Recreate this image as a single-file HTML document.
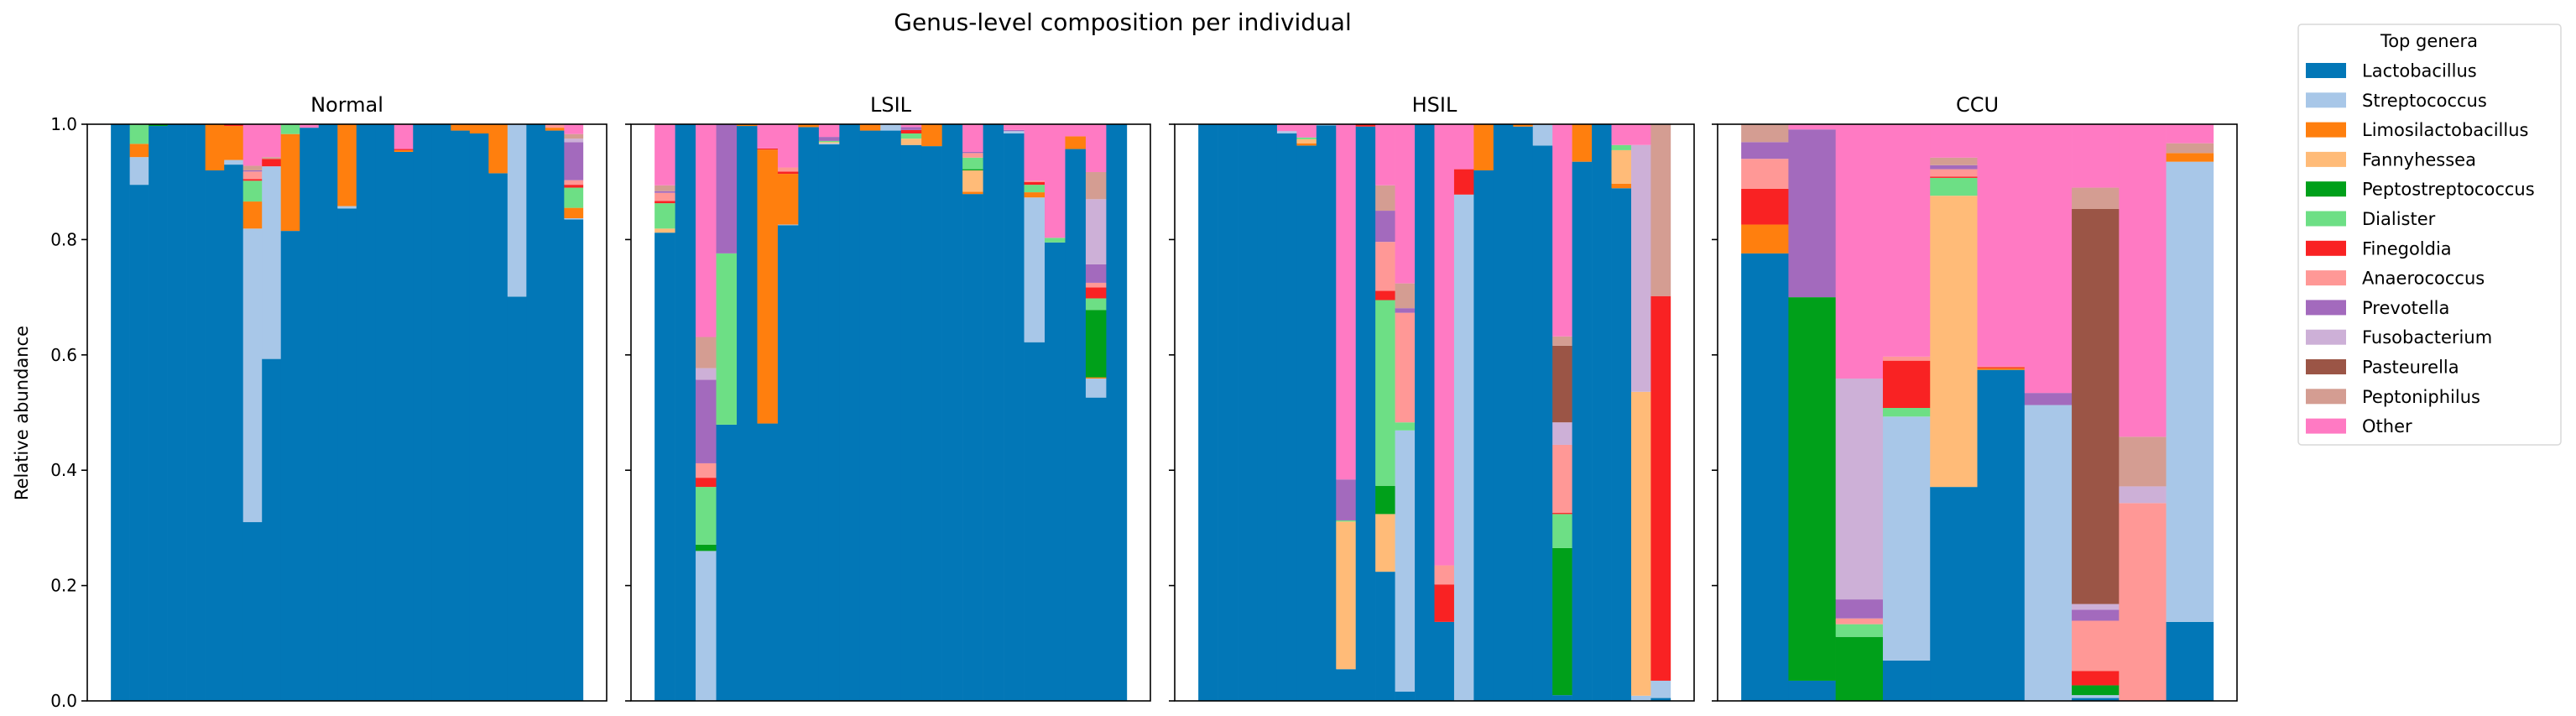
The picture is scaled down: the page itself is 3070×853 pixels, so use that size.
<!DOCTYPE html>
<html><head><meta charset="utf-8">
<style>
html,body{margin:0;padding:0;background:#fff;}
svg{display:block;font-family:"DejaVu Sans","Liberation Sans",sans-serif;}
</style></head>
<body>
<svg id="chart" width="3070" height="853" viewBox="0 0 3070 853" xmlns="http://www.w3.org/2000/svg">
<text x="1338" y="36" font-size="28" text-anchor="middle" fill="#000">Genus-level composition per individual</text>
<text transform="translate(33,492) rotate(-90)" font-size="21" text-anchor="middle" fill="#000">Relative abundance</text>
<g id="panels"></g>
<g id="legend"></g>
</svg>
<script>
const genera = ["Lactobacillus","Streptococcus","Limosilactobacillus","Fannyhessea","Peptostreptococcus","Dialister","Finegoldia","Anaerococcus","Prevotella","Fusobacterium","Pasteurella","Peptoniphilus","Other"];
const colors = ["#0277b7","#a8c7e8","#ff7f0e","#ffbb78","#00a01a","#6ddf85","#f92223","#ff9896","#a36abd","#cdb0d7","#9b5546","#d49d92","#ff7ac3"];
const groups = ["Normal","LSIL","HSIL","CCU"];
const yTicks = [0,0.2,0.4,0.6,0.8,1.0];
const yTickLabels = ["0.0","0.2","0.4","0.6","0.8","1.0"];
// order: Lacto,Strep,Limo,Fanny,Pepto,Dial,Fineg,Anaero,Prev,Fuso,Past,Pepton,Other
const normalSamples = [
[1,0,0,0,0,0,0,0,0,0,0,0,0],
[.895,.048,.023,0,0,.034,0,0,0,0,0,0,0],
[.997,0,0,0,.003,0,0,0,0,0,0,0,0],
[1,0,0,0,0,0,0,0,0,0,0,0,0],
[1,0,0,0,0,0,0,0,0,0,0,0,0],
[.92,0,.08,0,0,0,0,0,0,0,0,0,0],
[.93,.008,.059,0,0,0,.003,0,0,0,0,0,0],
[.31,.509,.047,0,0,.036,.003,.013,.002,0,0,.008,.072],
[.593,.334,0,0,0,0,.013,0,0,0,0,.003,.057],
[.815,0,.168,0,0,.017,0,0,0,0,0,0,0],
[.994,0,0,0,0,0,0,0,0,0,0,0,.006],
[1,0,0,0,0,0,0,0,0,0,0,0,0],
[.854,.004,.142,0,0,0,0,0,0,0,0,0,0],
[1,0,0,0,0,0,0,0,0,0,0,0,0],
[1,0,0,0,0,0,0,0,0,0,0,0,0],
[.952,0,.003,0,0,0,.002,0,0,0,0,0,.043],
[1,0,0,0,0,0,0,0,0,0,0,0,0],
[1,0,0,0,0,0,0,0,0,0,0,0,0],
[.989,0,.011,0,0,0,0,0,0,0,0,0,0],
[.984,0,.016,0,0,0,0,0,0,0,0,0,0],
[.915,0,.085,0,0,0,0,0,0,0,0,0,0],
[.701,.299,0,0,0,0,0,0,0,0,0,0,0],
[1,0,0,0,0,0,0,0,0,0,0,0,0],
[.989,0,.005,0,0,0,0,.006,0,0,0,0,0],
[.835,.002,.018,0,0,.035,.005,.008,.066,.006,0,.008,.017]
];
const lsilSamples = [
[.812,0,0,.007,0,.044,.004,.014,.003,0,0,.010,.106],
[1,0,0,0,0,0,0,0,0,0,0,0,0],
[0,.26,0,0,.011,.10,.016,.025,.145,.02,0,.054,.369],
[.479,0,0,0,0,.297,0,0,.224,0,0,0,0],
[.997,0,.003,0,0,0,0,0,0,0,0,0,0],
[.481,0,.475,0,0,0,.002,0,0,0,0,0,.042],
[.825,.001,.088,0,0,0,.004,.007,0,0,0,0,.075],
[.995,0,.005,0,0,0,0,0,0,0,0,0,0],
[.965,.002,0,.002,0,.002,0,0,.007,0,0,0,.022],
[1,0,0,0,0,0,0,0,0,0,0,0,0],
[.989,0,.011,0,0,0,0,0,0,0,0,0,0],
[.989,.011,0,0,0,0,0,0,0,0,0,0,0],
[.964,0,0,.011,0,.009,.006,0,.005,0,0,0,.005],
[.962,0,.038,0,0,0,0,0,0,0,0,0,0],
[1,0,0,0,0,0,0,0,0,0,0,0,0],
[.879,0,.004,.037,.002,.02,0,.008,.002,0,0,0,.048],
[1,0,0,0,0,0,0,0,0,0,0,0,0],
[.984,.004,0,0,0,0,0,0,.002,0,0,0,.01],
[.622,.251,.009,0,0,.013,.005,.002,0,0,0,0,.098],
[.795,0,0,0,0,.008,0,0,0,0,0,0,.197],
[.957,0,.022,0,0,0,0,0,0,0,0,0,.021],
[.526,.033,.002,0,.117,.02,.019,.008,.032,.113,0,.047,.083],
[1,0,0,0,0,0,0,0,0,0,0,0,0]
];
const hsilSamples = [
[1,0,0,0,0,0,0,0,0,0,0,0,0],
[1,0,0,0,0,0,0,0,0,0,0,0,0],
[1,0,0,0,0,0,0,0,0,0,0,0,0],
[1,0,0,0,0,0,0,0,0,0,0,0,0],
[.984,.004,0,0,0,0,0,0,0,0,0,0,.012],
[.963,0,.004,.007,0,.003,0,0,0,0,0,0,.023],
[.998,.002,0,0,0,0,0,0,0,0,0,0,0],
[.055,0,0,.256,0,.002,0,0,.071,0,0,0,.616],
[.996,0,0,0,0,0,.004,0,0,0,0,0,0],
[.224,0,0,.10,.049,.322,.016,.085,.054,0,0,.044,.106],
[.016,.453,0,0,0,.014,0,.19,.008,0,0,.043,.276],
[1,0,0,0,0,0,0,0,0,0,0,0,0],
[.137,0,0,0,0,0,.065,.033,0,0,0,0,.765],
[0,.878,0,0,0,0,.044,0,0,0,0,0,.078],
[.92,0,.08,0,0,0,0,0,0,0,0,0,0],
[1,0,0,0,0,0,0,0,0,0,0,0,0],
[.996,0,.004,0,0,0,0,0,0,0,0,0,0],
[.963,.037,0,0,0,0,0,0,0,0,0,0,0],
[.01,0,0,0,.255,.059,.002,.118,0,.039,.133,.016,.368],
[.935,0,.065,0,0,0,0,0,0,0,0,0,0],
[1,0,0,0,0,0,0,0,0,0,0,0,0],
[.889,0,.008,.058,0,.009,0,0,0,0,0,0,.036],
[0,.009,0,.527,0,0,0,0,0,.428,0,0,.036],
[.005,.03,0,0,0,0,.667,0,0,0,0,.298,0]
];
const ccuSamples = [
[.776,0,.05,0,0,0,.062,.052,.029,0,0,.031,0],
[.035,0,0,0,.665,0,0,0,.291,0,0,0,.009],
[0,0,0,0,.111,.022,0,.01,.033,.383,0,0,.441],
[.07,.423,0,0,0,.015,.082,.007,0,0,0,0,.403],
[.371,0,0,.505,0,.031,.002,.013,.007,0,0,.013,.058],
[.574,0,.003,0,0,0,.002,.001,0,0,0,0,.42],
[0,.513,0,0,0,0,0,0,.021,0,0,0,.466],
[.005,.005,0,0,.017,0,.025,.087,.019,.01,.685,.037,.11],
[0,0,0,0,0,0,0,.343,0,.029,0,.086,.542],
[.137,.798,.015,0,0,0,0,0,0,0,0,.017,.033]
];
const groupSamples = [normalSamples, lsilSamples, hsilSamples, ccuSamples];

const NS = "http://www.w3.org/2000/svg";
const panelLefts = [104, 752, 1400, 2047];
const panelW = 619, axTop = 148, axBottom = 835;
function yScale(v){ return axBottom - v*(axBottom-axTop); }
function mk(tag, attrs, parent){ const e=document.createElementNS(NS,tag); for(const k in attrs) e.setAttribute(k,attrs[k]); parent.appendChild(e); return e; }
const panelsG = document.getElementById("panels");

groups.forEach((g, gi) => {
  const samples = groupSamples[gi];
  const left = panelLefts[gi];
  const n = samples.length;
  const pg = mk("g", {}, panelsG);
  
  
  const inner = panelW/1.1, x0 = left + (panelW-inner)/2, bw = inner/n;
  function xScale(i){ return x0 + i*bw; }
  samples.forEach((s, si) => {
    let cum = 0;
    s.forEach((v, k) => {
      if (v <= 0) return;
      const y1 = yScale(Math.min(1, cum + v)), y0 = yScale(cum);
      const r = mk("rect", {x: xScale(si).toFixed(2), y: y1.toFixed(2), width: (bw+0.3).toFixed(2), height: (y0-y1).toFixed(2), fill: colors[k]}, pg);
      
      
      cum += v;
    });
  });
  const frame = mk("rect", {x:left, y:axTop, width:panelW, height:axBottom-axTop, fill:"none", stroke:"#000", "stroke-width":1.6}, pg);
  
  
  const t = mk("text", {x:left+panelW/2, y:133, "font-size":24, "text-anchor":"middle", fill:"#000"}, pg);
  t.textContent = g;
  
  
  yTicks.forEach((tv, ti) => {
    const yy = yScale(tv);
    const tk = mk("line", {x1:left-7, x2:left, y1:yy, y2:yy, stroke:"#000", "stroke-width":1.6}, pg);
    
    
    if (gi === 0) {
      const tl = mk("text", {x:left-12, y:yy+7, "font-size":20, "text-anchor":"end", fill:"#000"}, pg);
      tl.textContent = yTickLabels[ti];
      
      
    }
  });
});

const legendG = document.getElementById("legend");
const box = mk("rect", {x:2739, y:29, width:313, height:501, rx:4, fill:"#fff", stroke:"#d9d9d9", "stroke-width":1.5}, legendG);


const lt = mk("text", {x:2895, y:56, "font-size":21, "text-anchor":"middle", fill:"#000"}, legendG);
lt.textContent = "Top genera";


genera.forEach((gname, k) => {
  const cy = 84 + k*35.3;
  const sw = mk("rect", {x:2748, y:cy-9, width:48, height:18, fill:colors[k]}, legendG);
  
  
  const tx = mk("text", {x:2815, y:cy+7.5, "font-size":21, fill:"#000"}, legendG);
  tx.textContent = gname;
  
  
});
</script>
</body></html>
